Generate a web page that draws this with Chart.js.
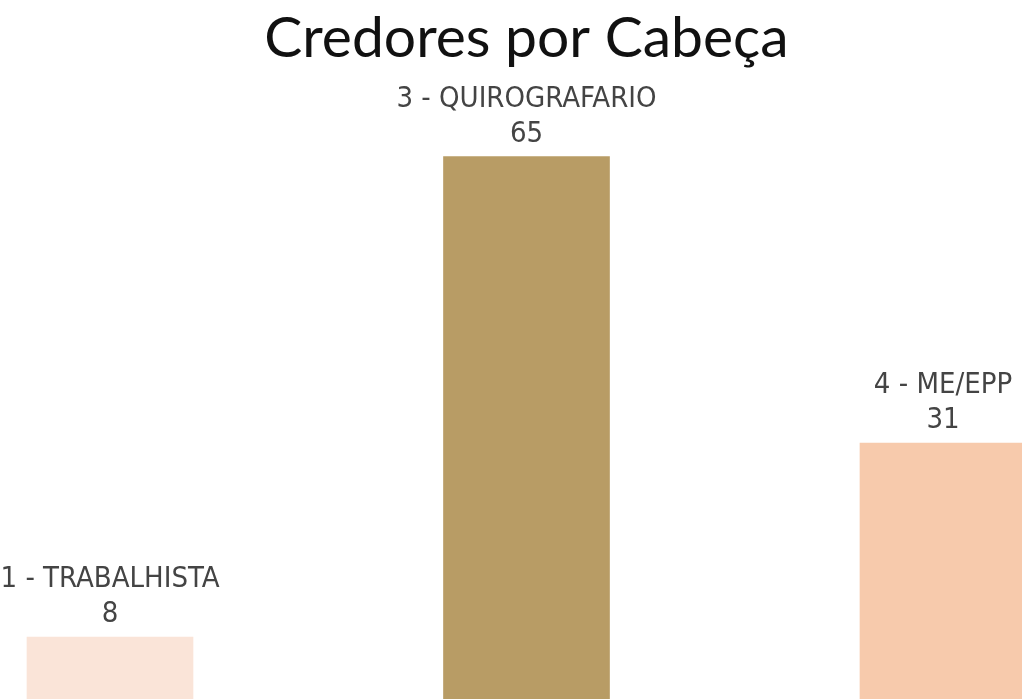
<!DOCTYPE html>
<html>
<head>
<meta charset="utf-8">
<script src="https://cdn.jsdelivr.net/npm/chart.js@4/dist/chart.umd.min.js"></script>
<style>
    html, body { margin: 0; padding: 0; background: #fff; overflow: hidden; }
    #box { width: 1022px; height: 699px; position: relative; }
</style>
</head>
<body>
<div id="box"><canvas id="grafico"></canvas></div>
<script>
// dados do gráfico
const categorias = ['1 - TRABALHISTA', '3 - QUIROGRAFARIO', '4 - ME/EPP'];
const valores = [8, 65, 31];
const cores = ['#FAE4D8', '#B89C65', '#F7CAAC'];

// rótulos acima das barras (categoria + valor)
const rotulosPlugin = {
    id: 'rotulos',
    afterDatasetsDraw(chart) {
        const ctx = chart.ctx;
        const meta = chart.getDatasetMeta(0);
        ctx.save();
        ctx.fillStyle = '#444';
        ctx.textAlign = 'center';
        ctx.textBaseline = 'alphabetic';
        meta.data.forEach((barra, i) => {
            ctx.font = '29px "Liberation Sans Narrow", "DejaVu Sans Condensed", sans-serif';
            ctx.fillText(categorias[i], barra.x, barra.y - 50);
            ctx.fillText(String(valores[i]), barra.x, barra.y - 15);
        });
        ctx.restore();
    }
};

new Chart(document.getElementById('grafico'), {
    type: 'bar',
    data: {
        labels: categorias,
        datasets: [{
            data: valores,
            backgroundColor: cores,
            barThickness: 166,
            clip: false
        }]
    },
    options: {
        responsive: true,
        maintainAspectRatio: false,
        animation: false,
        layout: { padding: { left: 110, right: 79, top: 0, bottom: 0 } },
        plugins: {
            legend: { display: false },
            tooltip: { enabled: false },
            title: {
                display: true,
                text: 'Credores por Cabeça',
                color: '#111',
                font: { family: 'Lato, "Open Sans", sans-serif', size: 57, weight: 'normal', lineHeight: 1.08 },
                padding: { top: 8, bottom: 1 }
            }
        },
        scales: {
            x: { display: false, offset: false },
            y: { display: false, min: 0.645, max: 75.2 }
        }
    },
    plugins: [rotulosPlugin]
});
</script>
</body>
</html>
